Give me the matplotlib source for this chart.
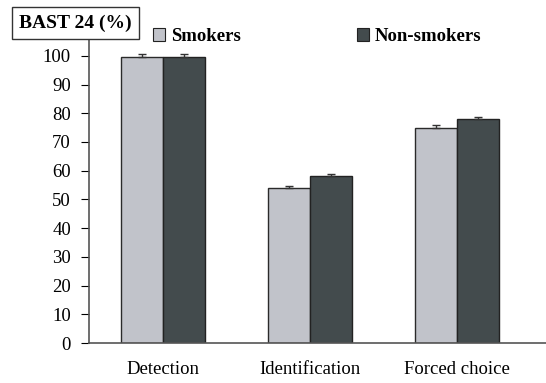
import numpy as np
import matplotlib.pyplot as plt
from matplotlib.patches import Patch

# BAST 24 scores by task, smokers vs non-smokers
categories = ["Detection", "Identification", "Forced choice"]
smokers = [99.5, 54.0, 75.0]
non_smokers = [99.5, 58.0, 78.0]
smokers_err = [1.2, 0.8, 0.8]
non_smokers_err = [1.2, 0.8, 0.8]
yticks = list(range(0, 101, 10))

plt.rcParams['font.family'] = ['Liberation Serif', 'DejaVu Serif']

fig = plt.figure(figsize=(5.46, 3.83), dpi=100)
ax = fig.add_axes([0.163, 0.1044, 0.837, 0.8173])

x = np.arange(len(categories))
w = 0.286
err_kw = dict(ecolor='#333333', elinewidth=1.0, capsize=3, capthick=1.0)
ax.bar(x - w / 2, smokers, w, yerr=[np.zeros(3), smokers_err],
       color='#c1c3ca', edgecolor='#2a2a2a', linewidth=1.0, error_kw=err_kw)
ax.bar(x + w / 2, non_smokers, w, yerr=[np.zeros(3), non_smokers_err],
       color='#434b4d', edgecolor='#222222', linewidth=1.0, error_kw=err_kw)

ax.set_xlim(-0.503, 2.605)
ax.set_ylim(0, 109)
ax.set_yticks(yticks)
ax.tick_params(axis='y', direction='out', length=6, labelsize=13.5, pad=7)
ax.set_xticks(x)
ax.set_xticklabels(categories, fontsize=13.5)
ax.tick_params(axis='x', length=0, pad=13)
for s in ['top', 'right']:
    ax.spines[s].set_visible(False)
for s in ['left', 'bottom']:
    ax.spines[s].set_color('#555555')
    ax.spines[s].set_linewidth(1.2)

# title box in the upper-left corner
fig.text(0.138, 0.94, "BAST 24 (%)", fontsize=14, fontweight='bold',
         ha='center', va='center',
         bbox=dict(boxstyle='square,pad=0.38', facecolor='white', edgecolor='#333333', linewidth=1.0))

handles = [Patch(facecolor='#c1c3ca', edgecolor='#222222', linewidth=0.8),
           Patch(facecolor='#434b4d', edgecolor='#222222', linewidth=0.8)]
fig.legend(handles, ["Smokers", "Non-smokers"], ncol=2, frameon=False,
           loc='center left', bbox_to_anchor=(0.249, 0.905),
           handlelength=0.65, handleheight=0.65, handletextpad=0.3,
           columnspacing=6.2, prop={'weight': 'bold', 'size': 13.5})

fig.savefig("out.png", dpi=100)
